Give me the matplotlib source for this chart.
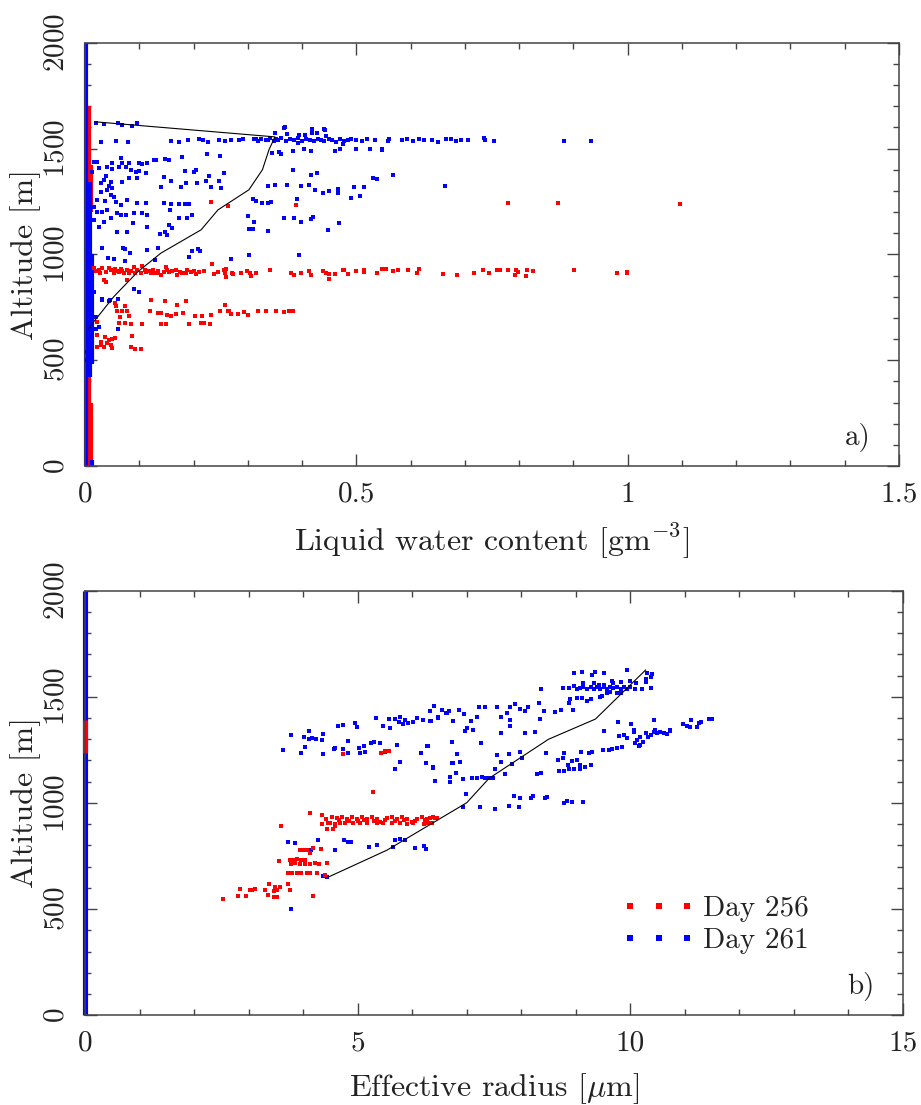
import numpy as np
import matplotlib
matplotlib.use("Agg")
import matplotlib.pyplot as plt
from matplotlib.ticker import MultipleLocator

plt.rcParams['font.family'] = ['cmr10', 'DejaVu Serif']
plt.rcParams['mathtext.fontset'] = 'cm'
plt.rcParams['axes.formatter.use_mathtext'] = True

RED = '#ff0000'
BLUE = '#0000ff'

# ---------------- panel a: liquid water content (g m^-3) vs altitude (m) ----------------
# samples with (near) zero LWC: (lwc, alt_from, alt_to)
a_zero_256 = [(0.008, 0, 1700), (0.011, 1200, 1420), (0.011, 0, 300)]
a_zero_261 = [(0.002, 0, 2000), (0.009, 420, 1340), (0.013, 480, 1000), (0.012, 0, 30)]

a_day256 = [
    # cloud layer ~900 m
    (.017, 936), (.026, 927), (.031, 936), (.039, 917), (.048, 927), (.053, 912), (.059, 922),
    (.066, 931), (.072, 912), (.077, 927), (.081, 912), (.035, 879), (.039, 870), (.09, 941),
    (.105, 946), (.092, 912), (.103, 912), (.112, 917), (.121, 912), (.127, 912), (.133, 912),
    (.14, 903), (.149, 941), (.151, 927), (.155, 917), (.168, 927), (.169, 903), (.179, 912),
    (.186, 912), (.188, 927), (.2, 922), (.204, 908), (.234, 955), (.237, 908), (.26, 894),
    (.26, 931), (.077, 879), (.02, 922), (.028, 912), (.044, 936), (.055, 931), (.062, 917),
    (.068, 922), (.085, 922), (.095, 927), (.11, 927), (.118, 922), (.125, 927), (.135, 922),
    (.145, 917), (.16, 922), (.175, 917), (.195, 917), (.21, 917), (.22, 922), (.245, 917),
    (.256, 927), (.258, 912), (.271, 912), (.272, 908), (.287, 912), (.298, 922), (.304, 912),
    (.306, 898), (.315, 912), (.34, 927), (.379, 912), (.385, 903), (.398, 912), (.412, 922),
    (.416, 903), (.438, 922), (.445, 912), (.449, 908), (.449, 884), (.46, 908), (.475, 927),
    (.477, 927), (.484, 908), (.5, 922), (.514, 927), (.515, 917), (.539, 912), (.548, 931),
    (.554, 931), (.567, 922), (.576, 927), (.596, 927), (.611, 912), (.615, 931), (.659, 907),
    (.685, 903), (.716, 912), (.734, 927), (.745, 912), (.76, 927), (.764, 927), (.779, 927),
    (.793, 903), (.795, 927), (.797, 917), (.812, 898), (.814, 927), (.826, 922), (.902, 927),
    (.981, 912), (.998, 917), (.999, 912),
    # ~1240 m
    (.232, 1248), (.263, 1229), (.388, 1234), (.779, 1243), (.872, 1243), (1.097, 1239),
    # 650-790 m
    (.121, 785), (.147, 780), (.169, 761), (.186, 780), (.258, 761), (.055, 769), (.057, 756),
    (.074, 756), (.059, 730), (.068, 730), (.077, 730), (.081, 709), (.064, 706), (.12, 733),
    (.134, 725), (.14, 725), (.151, 714), (.158, 709), (.168, 719), (.18, 723), (.202, 709),
    (.215, 709), (.232, 714), (.248, 733), (.263, 733), (.063, 678), (.074, 678), (.085, 671),
    (.105, 671), (.14, 671), (.149, 671), (.191, 671), (.213, 676), (.219, 676), (.23, 671),
    (.265, 733), (.269, 719), (.282, 719), (.293, 728), (.3, 714), (.318, 733), (.333, 733),
    (.352, 733), (.366, 728), (.375, 733), (.383, 733),
    # 550-650 m
    (.022, 619), (.029, 588), (.037, 608), (.044, 596), (.05, 600), (.055, 605), (.048, 572),
    (.022, 564), (.035, 563), (.05, 556), (.087, 615), (.085, 564), (.092, 553), (.103, 553),
    (.02, 704), (.022, 681), (.03, 570), (.04, 580),
]

a_day261 = [
    (.02, 1622), (.035, 1617), (.06, 1622), (.068, 1612), (.086, 1608), (.095, 1622),
    (.03, 1532), (.057, 1537), (.079, 1532), (.158, 1537), (.173, 1532), (.19, 1541), (.21, 1546),
    (.217, 1541), (.226, 1532), (.247, 1541), (.258, 1537), (.269, 1541), (.283, 1541),
    (.291, 1546), (.315, 1546), (.324, 1546), (.337, 1541),
    # main layer ~1545 m
    (.311, 1546), (.318, 1537), (.325, 1546), (.333, 1541), (.340, 1551), (.348, 1537),
    (.352, 1546), (.355, 1541), (.362, 1551), (.370, 1537), (.378, 1546), (.385, 1541),
    (.392, 1551), (.40, 1537), (.407, 1546), (.415, 1541), (.422, 1537), (.430, 1546),
    (.434, 1541), (.441, 1537), (.449, 1546), (.456, 1541), (.463, 1532), (.470, 1546),
    (.477, 1537), (.484, 1541), (.49, 1546), (.50, 1541), (.51, 1537), (.52, 1546), (.535, 1541),
    (.558, 1537), (.56, 1546), (.585, 1541), (.594, 1546), (.605, 1537), (.615, 1546),
    (.624, 1541), (.64, 1541), (.65, 1532), (.666, 1546), (.675, 1546), (.684, 1537),
    (.693, 1541), (.705, 1541), (.736, 1551), (.738, 1541), (.753, 1537), (.883, 1536),
    (.933, 1536),
    (.35, 1575), (.366, 1598), (.368, 1604), (.372, 1570), (.394, 1565), (.406, 1565),
    (.418, 1593), (.418, 1573), (.428, 1575), (.441, 1593), (.443, 1588), (.445, 1560),
    (.344, 1480), (.357, 1485), (.362, 1475), (.383, 1490), (.403, 1499), (.416, 1490),
    (.46, 1490), (.469, 1499), (.5, 1499), (.526, 1499), (.547, 1499), (.475, 1522),
    (.392, 1527), (.548, 1495), (.567, 1376), (.664, 1324),
    # 1250-1470 m
    (.017, 1437), (.022, 1437), (.05, 1433), (.066, 1456), (.068, 1433), (.081, 1433),
    (.099, 1433), (.114, 1433), (.127, 1447), (.131, 1447), (.147, 1452), (.155, 1447),
    (.179, 1461), (.225, 1475), (.248, 1466),
    (.04, 1414), (.05, 1404), (.063, 1414), (.075, 1414), (.085, 1400), (.094, 1390),
    (.099, 1395), (.112, 1385), (.105, 1428), (.013, 1390), (.026, 1409), (.184, 1395),
    (.2, 1390), (.204, 1400), (.228, 1371), (.256, 1385),
    (.039, 1371), (.035, 1352), (.029, 1338), (.048, 1343), (.044, 1324), (.05, 1314),
    (.04, 1305), (.048, 1281), (.029, 1295), (.053, 1272), (.068, 1343), (.081, 1362),
    (.096, 1362), (.145, 1366), (.158, 1347), (.186, 1338), (.206, 1338), (.223, 1347),
    (.247, 1347), (.177, 1319), (.14, 1319), (.232, 1319), (.25, 1314),
    (.022, 1258), (.037, 1253), (.057, 1248), (.066, 1234), (.077, 1258), (.112, 1243),
    (.096, 1243), (.145, 1243), (.158, 1239), (.173, 1239), (.184, 1239), (.191, 1239),
    (.156, 1210),
    (.383, 1400), (.416, 1376), (.427, 1385), (.398, 1324), (.413, 1329), (.423, 1305),
    (.438, 1290), (.449, 1300), (.466, 1310), (.466, 1290), (.491, 1267), (.495, 1319),
    (.506, 1277), (.514, 1319), (.53, 1362), (.539, 1357), (.35, 1329), (.372, 1329),
    (.337, 1324), (.309, 1262), (.315, 1253), (.327, 1243), (.337, 1243), (.342, 1248),
    (.39, 1262),
    # 1090-1230 m
    (.017, 1224), (.022, 1201), (.031, 1201), (.04, 1210), (.059, 1196), (.066, 1187),
    (.075, 1187), (.09, 1196), (.105, 1196), (.114, 1187), (.048, 1173), (.035, 1154),
    (.088, 1149), (.114, 1130), (.017, 1163), (.026, 1130), (.155, 1140), (.16, 1125),
    (.173, 1173), (.188, 1173), (.197, 1187), (.077, 1106), (.138, 1097), (.147, 1106),
    (.151, 1092), (.059, 1106),
    (.3, 1182), (.311, 1154), (.302, 1120), (.31, 1120), (.337, 1111), (.366, 1173),
    (.385, 1173), (.398, 1154), (.416, 1168), (.421, 1178), (.447, 1116), (.468, 1149),
    # below 1050 m
    (.212, 1017), (.208, 1026), (.198, 1017), (.191, 988), (.114, 1021), (.134, 1031),
    (.129, 974), (.07, 1031), (.074, 1026), (.042, 983), (.053, 978), (.074, 969), (.031, 1031),
    (.269, 978), (.302, 997), (.394, 997), (.083, 1007),
    (.09, 837), (.099, 823), (.031, 790), (.044, 780), (.017, 823), (.031, 785), (.061, 790),
    (.046, 785), (.013, 799),
    (.018, 704), (.026, 657), (.02, 648), (.061, 648), (.004, 539), (.002, 501),
]

a_mean_lwc = [0.007, 0.053, 0.097, 0.14, 0.214, 0.245, 0.302, 0.327, 0.339, 0.35, 0.02]
a_mean_alt = [652, 800, 917, 1006, 1116, 1210, 1305, 1400, 1494, 1555, 1626]

# ---------------- panel b: effective radius (um) vs altitude (m) ----------------
b_zero_256 = [(0.0, 1235, 1390)]
b_zero_261 = [(0.0, 0, 2000)]

b_day256 = [
    # layer ~900-950 m
    (4.34, 943), (4.42, 923), (4.53, 935), (4.62, 928), (4.71, 935), (4.80, 923), (4.89, 932),
    (4.98, 923), (5.08, 932), (5.17, 923), (5.26, 932), (5.35, 923), (5.41, 912), (5.54, 928),
    (5.63, 932), (5.72, 923), (5.81, 932), (5.90, 923), (5.99, 912), (6.09, 923), (6.18, 932),
    (6.27, 923), (6.39, 932), (6.45, 928), (4.50, 904), (4.59, 901), (4.68, 907), (4.77, 904),
    (4.92, 904), (5.05, 907), (5.17, 904), (5.35, 904), (5.47, 907), (5.63, 907), (5.78, 904),
    (5.90, 901), (6.02, 907), (6.21, 901), (6.30, 907), (4.34, 901), (4.45, 904), (4.43, 876),
    (4.54, 876), (4.59, 891), (4.13, 954), (4.65, 918), (4.85, 915), (5.00, 915), (5.12, 918),
    (5.30, 915), (5.50, 918), (5.68, 915), (5.85, 918), (6.05, 915), (6.24, 918), (6.33, 927),
    (6.42, 927), (6.28, 904), (6.37, 904),
    # 550-800 m
    (3.59, 893), (3.55, 728), (3.945, 778), (4.01, 778), (4.08, 778), (4.13, 766), (4.18, 788),
    (4.33, 782), (3.76, 731), (3.82, 731), (3.88, 735), (3.97, 731), (4.04, 731), (3.78, 712),
    (3.85, 716), (3.95, 712), (4.04, 712), (4.13, 712), (4.22, 716), (4.30, 712), (4.43, 716),
    (3.73, 672), (3.79, 668), (3.88, 672), (3.97, 672), (4.07, 668), (4.13, 672), (4.25, 668),
    (4.40, 663), (3.73, 618), (3.76, 590), (3.38, 618), (3.49, 606), (3.57, 606), (3.46, 587),
    (3.52, 590), (3.30, 590), (3.36, 566), (3.47, 556), (3.52, 558), (3.07, 590), (3.12, 593),
    (3.02, 590), (2.84, 593), (2.81, 561), (2.95, 561), (2.53, 548), (4.18, 561),
    # isolated
    (5.28, 1053), (4.73, 1230), (5.43, 1237), (5.50, 1246), (5.57, 1246),
]

b_day261 = [
    # 1230-1460 m, left part
    (3.63, 1250), (3.78, 1321), (3.96, 1236), (4.04, 1265), (4.01, 1309), (4.10, 1301),
    (4.11, 1339), (4.16, 1306), (4.24, 1301), (4.34, 1296), (4.36, 1325), (4.36, 1232),
    (4.57, 1252), (4.59, 1260), (4.64, 1363), (4.74, 1368), (4.74, 1252), (4.82, 1293),
    (4.82, 1235), (4.95, 1375), (4.98, 1358), (5.03, 1260), (5.04, 1235), (5.11, 1268),
    (5.14, 1240), (5.24, 1280), (5.30, 1288), (5.34, 1402), (5.41, 1280), (5.46, 1363),
    (5.50, 1240), (5.58, 1396), (5.60, 1353), (5.69, 1396), (5.75, 1383), (5.78, 1404),
    (5.83, 1370), (5.87, 1391), (5.93, 1375), (6.02, 1383), (6.09, 1399), (6.20, 1391),
    (6.33, 1432), (6.35, 1386), (6.40, 1456), (6.48, 1399), (6.54, 1437), (6.64, 1424),
    (6.75, 1386), (6.85, 1437),
    (6.20, 1390), (6.33, 1387), (6.40, 1456), (6.48, 1406), (6.62, 1425), (6.67, 1433),
    (6.75, 1387), (6.85, 1437), (6.95, 1417), (7.08, 1387), (7.18, 1406), (7.22, 1450),
    (7.34, 1453), (7.55, 1450), (7.63, 1406), (7.73, 1425), (7.79, 1453), (7.80, 1390),
    (7.88, 1464), (7.98, 1441), (8.07, 1434), (8.12, 1450), (8.33, 1472), (8.34, 1393),
    (8.42, 1434), (8.62, 1430), (8.73, 1437), (8.87, 1469), (8.95, 1437), (6.97, 1340),
    (7.11, 1343), (7.00, 1351), (7.63, 1331), (7.80, 1362), (8.07, 1331), (8.26, 1335),
    # 1470-1630 m
    (8.97, 1613), (9.11, 1618), (9.30, 1602), (9.36, 1618), (9.52, 1613), (9.93, 1626),
    (10.31, 1610), (10.40, 1607), (10.38, 1594), (10.28, 1582), (10.29, 1571),
    (8.87, 1539), (8.96, 1550), (9.02, 1535), (9.08, 1539), (9.14, 1547), (9.21, 1535),
    (9.27, 1544), (9.33, 1535), (9.39, 1544), (9.45, 1535), (9.51, 1547), (9.57, 1535),
    (9.63, 1544), (9.69, 1539), (9.76, 1547), (9.82, 1535), (9.88, 1544), (9.94, 1535),
    (10.0, 1544), (10.09, 1535), (10.21, 1535), (10.38, 1539), (9.14, 1566), (9.33, 1563),
    (9.42, 1555), (9.51, 1555), (9.66, 1576), (9.69, 1563), (9.82, 1571), (10.0, 1576),
    (10.11, 1566), (9.57, 1519), (9.63, 1524), (8.77, 1539), (8.37, 1536),
    (8.89, 1488), (8.87, 1472), (9.02, 1495), (9.11, 1495), (9.21, 1480), (9.27, 1488),
    (9.44, 1500), (9.48, 1503), (9.82, 1516), (9.76, 1519),
    # 1230-1400 m, right part
    (9.50, 1250), (9.52, 1341), (9.66, 1254), (9.76, 1257), (9.77, 1383), (9.79, 1315),
    (9.85, 1265), (9.89, 1320), (9.94, 1304), (10.01, 1372), (10.07, 1344), (10.12, 1297),
    (10.13, 1297), (10.17, 1273), (10.18, 1309), (10.23, 1289), (10.28, 1328), (10.32, 1312),
    (10.37, 1320), (10.43, 1336), (10.44, 1391), (10.49, 1331), (10.55, 1336), (10.61, 1331),
    (10.67, 1325), (10.73, 1344), (10.97, 1372), (11.03, 1363), (11.10, 1356), (11.11, 1391),
    (11.22, 1359), (11.26, 1375), (11.30, 1383), (11.45, 1394), (11.50, 1397),
    (9.60, 1249), (9.30, 1241), (9.24, 1236), (10.15, 1268), (10.09, 1280), (10.46, 1343),
    (10.72, 1340), (10.06, 1335),
    # 1100-1250 m
    (8.67, 1202), (8.76, 1210), (8.86, 1178), (8.93, 1199), (9.02, 1202), (9.08, 1178),
    (9.17, 1171), (9.27, 1178), (8.70, 1152), (8.78, 1152), (8.87, 1158), (8.96, 1158),
    (9.07, 1158), (8.46, 1236), (8.79, 1236), (9.10, 1241), (8.29, 1136), (8.36, 1139),
    (8.01, 1210), (7.97, 1241), (7.83, 1183), (7.77, 1230), (7.71, 1136), (7.62, 1194),
    (7.55, 1225), (7.52, 1160), (7.48, 1119), (7.40, 1119), (7.34, 1119), (7.28, 1123),
    (7.19, 1116), (7.10, 1116), (6.94, 1111), (6.88, 1194), (6.82, 1230), (6.73, 1189),
    (6.69, 1123), (6.70, 1100), (6.42, 1105), (6.39, 1167), (6.26, 1189), (6.28, 1268),
    (6.73, 1288), (7.26, 1284),
    (5.72, 1273), (5.77, 1195), (5.69, 1162), (6.17, 1235), (6.26, 1190), (6.29, 1268),
    (6.39, 1165), (6.42, 1105), (6.69, 1121), (6.70, 1101), (6.73, 1289), (6.74, 1190),
    (6.81, 1141), (6.82, 1231),
    # ~1000 m
    (6.99, 1042), (6.93, 982), (7.25, 982), (7.51, 971), (7.77, 987), (7.87, 1034),
    (7.96, 979), (7.98, 1021), (8.17, 1021), (8.21, 1032), (8.44, 1021), (8.47, 1029),
    (8.79, 998), (8.83, 1009), (8.93, 1003), (9.13, 1006),
    # 500-830 m
    (3.72, 815), (3.85, 813), (4.27, 826), (4.14, 780), (4.59, 777), (4.75, 826), (4.82, 815),
    (4.88, 815), (5.21, 793), (5.35, 802), (5.65, 793), (5.69, 826), (5.78, 829), (5.87, 826),
    (6.05, 789), (6.21, 797), (6.26, 785), (3.78, 502), (4.36, 654), (4.43, 649),
]

b_mean_re = [4.47, 5.54, 7.0, 7.41, 8.5, 9.36, 10.28]
b_mean_alt = [652, 778, 1001, 1116, 1300, 1395, 1626]

legend_labels = ['Day 256', 'Day 261']

# ---------------- drawing ----------------
fig = plt.figure(figsize=(9.21, 11.05), dpi=100)
ax_a = fig.add_axes([85 / 921, (1105 - 466) / 1105, 814 / 921, 423.3 / 1105])
ax_b = fig.add_axes([85 / 921, (1105 - 1015.3) / 1105, 818 / 921, 424.7 / 1105])

MS = 3.0
TXT = '#222222'
AXC = '#444444'


def columns(ax, cols, color, lw):
    for x, lo, hi in cols:
        ax.vlines(x, lo, hi, colors=color, linewidth=lw, zorder=2.5, clip_on=False)


def points(ax, pts, color):
    arr = np.array(pts)
    ax.plot(arr[:, 0], arr[:, 1], 's', color=color, ms=MS, mew=0, zorder=3)


columns(ax_a, a_zero_256, RED, 3.0)
points(ax_a, a_day256, RED)
columns(ax_a, a_zero_261, BLUE, 3.0)
points(ax_a, a_day261, BLUE)
ax_a.plot(a_mean_lwc, a_mean_alt, color='black', lw=0.8, zorder=4)

columns(ax_b, b_zero_261, BLUE, 3.7)
points(ax_b, b_day261, BLUE)
columns(ax_b, b_zero_256, RED, 3.7)
points(ax_b, b_day256, RED)
ax_b.plot(b_mean_re, b_mean_alt, color='black', lw=0.8, zorder=4)

# legend
h256, = ax_b.plot([], [], 's', color=RED, ms=4.3, mew=0)
h261, = ax_b.plot([], [], 's', color=BLUE, ms=4.3, mew=0)
ax_b.legend([h256, h261], legend_labels, numpoints=3, frameon=False,
            loc='center left', bbox_to_anchor=(0.638, 0.213), borderpad=0,
            handlelength=2.55, handletextpad=0.25, labelspacing=0.2,
            fontsize=21, labelcolor=TXT)

for ax, xmax, xmaj, xmin_, xlab, tag in [
        (ax_a, 1.5, 0.5, 0.1, r'Liquid water content [gm$^{-3}$]', 'a)'),
        (ax_b, 15, 5, 1, r'Effective radius [$\mu$m]', 'b)')]:
    ax.set_xlim(0, xmax)
    ax.set_ylim(0, 2000)
    ax.xaxis.set_major_locator(MultipleLocator(xmaj))
    ax.xaxis.set_minor_locator(MultipleLocator(xmin_))
    ax.yaxis.set_major_locator(MultipleLocator(500))
    ax.yaxis.set_minor_locator(MultipleLocator(100))
    ax.tick_params(which='both', direction='in', top=True, right=True,
                   color=AXC, width=1.0, labelsize=21, labelcolor=TXT, pad=11)
    ax.tick_params(which='major', length=8.6)
    ax.tick_params(which='minor', length=4.3)
    for lbl in ax.get_yticklabels():
        lbl.set_rotation(90)
        lbl.set_va('center')
    for s in ax.spines.values():
        s.set_color(AXC)
        s.set_linewidth(1.1)
    ax.xaxis.set_major_formatter(plt.FuncFormatter(lambda v, p: f'{v:g}'))
    ax.set_xlabel(xlab, fontsize=23, color=TXT, labelpad=10)
    ax.set_ylabel('Altitude [m]', fontsize=23, color=TXT, labelpad=2)
    ax.text(0.965, 0.05, tag, transform=ax.transAxes, ha='right', va='baseline',
            fontsize=21, color=TXT)

fig.savefig('out.png', dpi=100)
